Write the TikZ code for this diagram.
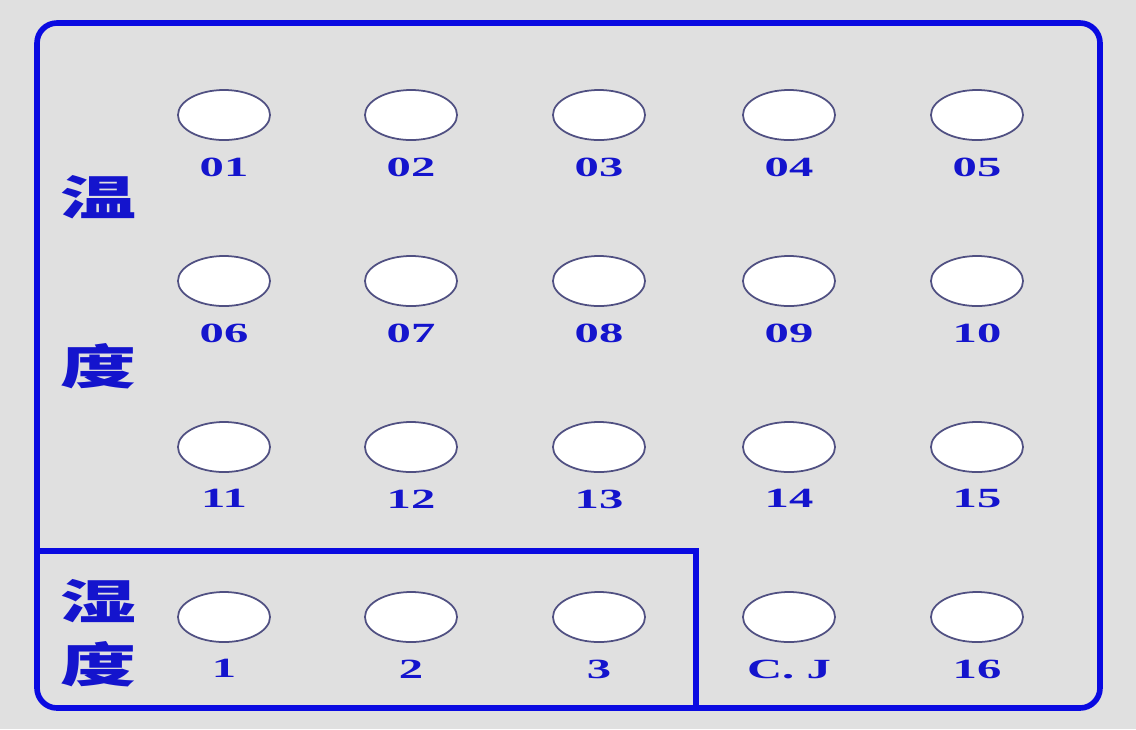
\documentclass[tikz,border=0pt]{standalone}
\usepackage{fontspec}
\setmainfont{Liberation Serif}
\newfontfamily\cjk{Noto Sans CJK SC}
\usetikzlibrary{positioning,shapes.geometric}
\definecolor{panelblue}{RGB}{10,10,225}
\definecolor{textblue}{RGB}{20,20,205}
\definecolor{holeline}{RGB}{80,80,130}
\definecolor{panelgray}{RGB}{224,224,224}

\begin{document}
\begin{tikzpicture}[
    x=0.01cm, y=-0.01cm,
    % Define styles for the panel parts
    hole/.style={ellipse, draw=holeline, line width=0.5pt, fill=white, minimum width=0.92cm, minimum height=0.5cm, inner sep=0pt},
    tag/.style={font=\bfseries\fontsize{7.9}{9}\selectfont, text=textblue, inner sep=0pt, xscale=1.75},
    hanzi/.style={font=\cjk\bfseries\fontsize{13.5}{14}\selectfont, text=textblue, inner sep=0pt, xscale=1.6},
    frame/.style={draw=panelblue, line width=1.6pt}
]
\useasboundingbox[fill=panelgray] (0,0) rectangle (1136,729);

% ==========================================
% Frame: whole panel and humidity corner
% ==========================================
\draw[frame, rounded corners=0.2cm] (37,23) rectangle (1100,708);
\draw[frame] (37,551) -| (696,708);

% ==========================================
% Temperature channels 01--15
% ==========================================
\foreach \y [count=\r from 0] in {115,281,447} {
  \foreach \x [count=\c] in {224,411,599,789,977} {
    \pgfmathtruncatemacro\k{\r*5+\c}
    \node[hole] (t\k) at (\x,\y) {};
    \node[tag, below=0.16cm of t\k] (t\k-tag) {\ifnum\k<10 0\fi\k};
  }
}

\node[hanzi] (temp1) at (98,197) {温};
\node[hanzi] (temp2) at (98,366) {度};

% ==========================================
% Humidity channels 1--3, C.J and 16
% ==========================================
\foreach \x/\n in {224/1,411/2,599/3} {
  \node[hole] (h\n) at (\x,617) {};
  \node[tag, below=0.16cm of h\n] (h\n-tag) {\n};
}
\node[hole] (cj) at (789,617) {};
\node[tag, below=0.16cm of cj] (cj-tag) {C. J};
\node[hole] (t16) at (977,617) {};
\node[tag, below=0.16cm of t16] (t16-tag) {16};

\node[hanzi] (hum1) at (98,601) {湿};
\node[hanzi] (hum2) at (98,664) {度};

\end{tikzpicture}
\end{document}
